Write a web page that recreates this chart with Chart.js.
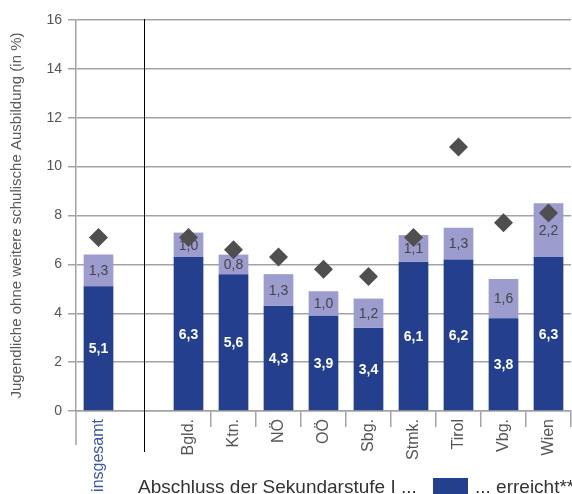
<!DOCTYPE html>
<html lang="de">
<head>
<meta charset="utf-8">
<title>Jugendliche ohne weitere schulische Ausbildung</title>
<script src="https://cdn.jsdelivr.net/npm/chart.js@4/dist/chart.umd.min.js"></script>
<style>
  html, body { margin: 0; padding: 0; background: #ffffff; }
  #wrap { width: 572px; height: 494px; }
</style>
</head>
<body>
<div id="wrap"><canvas id="chart" width="572" height="494"></canvas></div>
<script>
// Categories: Austria total, a spacer slot, then the nine federal states
const categories = ['insgesamt', '', 'Bgld.', 'Ktn.', 'NÖ', 'OÖ', 'Sbg.', 'Stmk.', 'Tirol', 'Vbg.', 'Wien'];

// Share of young people without further schooling (in %)
const reached    = [5.1, null, 6.3, 5.6, 4.3, 3.9, 3.4, 6.1, 6.2, 3.8, 6.3];
const notReached = [1.3, null, 1.0, 0.8, 1.3, 1.0, 1.2, 1.1, 1.3, 1.6, 2.2];
const comparison = [7.1, null, 7.1, 6.6, 6.3, 5.8, 5.5, 7.1, 10.8, 7.7, 8.1];

// Value axis
const yMin = 0;
const yMax = 16;
const yStep = 2;

const yTitle = 'Jugendliche ohne weitere schulische Ausbildung (in %)';
const legendLead = 'Abschluss der Sekundarstufe I ...';

const DARK = '#233f8e';
const LIGHT = '#9c9cce';
const DIAMOND = '#4f4f4f';
const GRID = '#a3a3a3';
const FONT = "'Liberation Sans', Arial, Helvetica, sans-serif";

const fmt = v => v.toFixed(1).replace('.', ',');

// Value labels inside each bar segment
const segmentLabels = {
  id: 'segmentLabels',
  afterDatasetDraw(chart, args) {
    const ds = chart.data.datasets[args.index];
    if (ds.type !== 'bar') return;
    const ctx = chart.ctx;
    ctx.save();
    ctx.textAlign = 'center';
    ctx.textBaseline = 'middle';
    ctx.font = (ds.labelBold ? 'bold ' : '') + '14px ' + FONT;
    ctx.fillStyle = ds.labelColor;
    args.meta.data.forEach((el, i) => {
      const v = ds.data[i];
      if (v == null) return;
      const p = el.getProps(['x', 'y', 'base'], true);
      ctx.fillText(fmt(v), p.x, (p.y + p.base) / 2 + 1);
    });
    ctx.restore();
  }
};

// Separator between total and states, axis extension and the legend row
const decorations = {
  id: 'decorations',
  afterDraw(chart) {
    const ctx = chart.ctx;
    const xs = chart.scales.x;
    const area = chart.chartArea;
    ctx.save();
    // y axis line continues below the baseline
    ctx.strokeStyle = GRID;
    ctx.lineWidth = 1.5;
    ctx.beginPath();
    ctx.moveTo(area.left, area.bottom);
    ctx.lineTo(area.left, 445);
    ctx.stroke();
    // black divider in the spacer slot
    const sx = Math.round(xs.getPixelForValue(1)) + 0.5;
    ctx.strokeStyle = '#000000';
    ctx.lineWidth = 1;
    ctx.beginPath();
    ctx.moveTo(sx, area.top - 1);
    ctx.lineTo(sx, 452);
    ctx.stroke();
    // legend row: lead text, then the swatch of the "reached" series
    const ds = chart.data.datasets.find(d => d.legendEntry);
    ctx.font = '19px ' + FONT;
    ctx.fillStyle = '#333333';
    ctx.textBaseline = 'alphabetic';
    ctx.textAlign = 'left';
    const baseY = 493;
    ctx.fillText(legendLead, 138, baseY);
    ctx.fillStyle = ds.backgroundColor;
    ctx.fillRect(433, 478, 35, 20);
    ctx.fillStyle = '#333333';
    ctx.fillText(ds.label, 475, baseY);
    ctx.restore();
  }
};

new Chart(document.getElementById('chart'), {
  type: 'bar',
  data: {
    labels: categories,
    datasets: [
      {
        type: 'line',
        label: 'Vergleichswert',
        data: comparison,
        showLine: false,
        pointStyle: 'rectRot',
        pointRadius: 9.5,
        pointBackgroundColor: DIAMOND,
        pointBorderColor: DIAMOND,
        pointBorderWidth: 0,
        stack: 'marker',
        order: 0
      },
      {
        type: 'bar',
        label: '... erreicht**',
        data: reached,
        backgroundColor: DARK,
        stack: 'share',
        order: 1,
        labelColor: '#ffffff',
        labelBold: true,
        legendEntry: true
      },
      {
        type: 'bar',
        label: '... nicht erreicht',
        data: notReached,
        backgroundColor: LIGHT,
        stack: 'share',
        order: 1,
        labelColor: '#454545',
        labelBold: false
      }
    ]
  },
  options: {
    responsive: false,
    animation: false,
    devicePixelRatio: 1,
    layout: { autoPadding: false, padding: { top: 20, right: 1, left: 0, bottom: 0 } },
    datasets: {
      bar: { categoryPercentage: 1, barPercentage: 0.66 }
    },
    plugins: {
      legend: { display: false },
      tooltip: { enabled: false }
    },
    scales: {
      x: {
        stacked: true,
        grid: {
          offset: true,
          drawOnChartArea: false,
          drawTicks: true,
          tickLength: 16,
          lineWidth: 1.5,
          color: c => (c.index === undefined || c.index >= 3) ? GRID : 'rgba(0,0,0,0)'
        },
        border: { color: GRID, width: 1.5 },
        ticks: {
          autoSkip: false,
          maxRotation: 90,
          minRotation: 90,
          padding: -8,
          font: { family: FONT, size: 16 },
          color: c => c.index === 0 ? '#3d56a6' : '#555555'
        },
        afterFit: s => { s.height = 83; s.paddingLeft = 0; s.paddingRight = 0; }
      },
      y: {
        stacked: true,
        min: yMin,
        max: yMax,
        ticks: {
          stepSize: yStep,
          padding: 6,
          font: { family: FONT, size: 14 },
          color: '#555555'
        },
        grid: { color: GRID, lineWidth: 1.5, tickLength: 8 },
        border: { color: GRID, width: 1.5 },
        title: {
          display: true,
          text: yTitle,
          font: { family: FONT, size: 15 },
          color: '#5a5a5a',
          padding: { top: 8, bottom: 0 }
        },
        afterFit: s => { s.width = 76; s.paddingTop = 0; s.paddingBottom = 0; }
      }
    }
  },
  plugins: [segmentLabels, decorations]
});
</script>
</body>
</html>
